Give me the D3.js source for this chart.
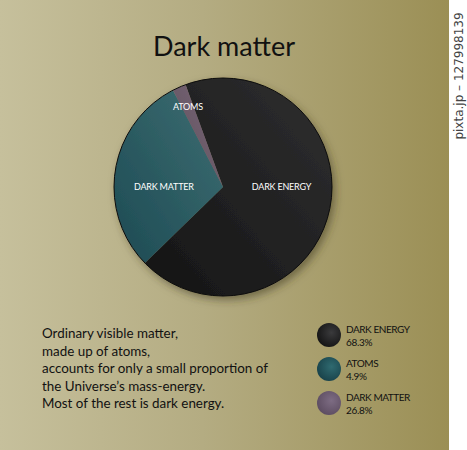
<!DOCTYPE html>
<html>
<head>
<meta charset="utf-8">
<script src="https://cdn.jsdelivr.net/npm/d3@7"></script>
<style>
  body { margin: 0; background: #fff; }
  svg { display: block; }
</style>
</head>
<body>
<svg width="467" height="450"></svg>
<script>
// slices as drawn in the picture (clockwise from the top-left edge)
var sliceNames = ["DARK ENERGY", "DARK MATTER", "ATOMS"];
var sliceValues = [68.3, 29.7, 2.0];

// legend as printed
var legendNames = ["DARK ENERGY", "ATOMS", "DARK MATTER"];
var legendPct = ["68.3%", "4.9%", "26.8%"];

var title = "Dark matter";
var noteLines = [
    "Ordinary visible matter,",
    "made up of atoms,",
    "accounts for only a small proportion of",
    "the Universe\u2019s mass-energy.",
    "Most of the rest is dark energy."
];

var svg = d3.select("svg"),
    W = 449, H = 450,
    cx = 223, cy = 187, R = 109;

var defs = svg.append("defs");

var bg = defs.append("linearGradient").attr("id", "bg")
    .attr("x1", 0).attr("x2", 1).attr("y1", 0).attr("y2", 0);
bg.append("stop").attr("offset", "0%").attr("stop-color", "#c6c09c");
bg.append("stop").attr("offset", "45%").attr("stop-color", "#b4ac82");
bg.append("stop").attr("offset", "100%").attr("stop-color", "#9b8f55");

// slice fills
var fills = {
    "DARK ENERGY": ["#141414", "#2f2f30"],
    "DARK MATTER": ["#1d4a53", "#3d6e72"],
    "ATOMS": ["#5e4d5e", "#7a6877"]
};
Object.keys(fills).forEach(function (k, i) {
    var g = defs.append("linearGradient").attr("id", "f" + i)
        .attr("x1", 0).attr("y1", 1).attr("x2", 1).attr("y2", 0);
    g.append("stop").attr("offset", "0%").attr("stop-color", fills[k][0]);
    g.append("stop").attr("offset", "100%").attr("stop-color", fills[k][1]);
});
var fillId = function (name) { return "url(#f" + Object.keys(fills).indexOf(name) + ")"; };

var legendFill = {
    "DARK ENERGY": ["#3a3a3c", "#111"],
    "ATOMS": ["#2f6a70", "#173f47"],
    "DARK MATTER": ["#7d6c83", "#5a4a5e"]
};
Object.keys(legendFill).forEach(function (k, i) {
    var g = defs.append("radialGradient").attr("id", "l" + i)
        .attr("cx", "60%").attr("cy", "40%").attr("r", "70%");
    g.append("stop").attr("offset", "0%").attr("stop-color", legendFill[k][0]);
    g.append("stop").attr("offset", "100%").attr("stop-color", legendFill[k][1]);
});

var shadow = defs.append("filter").attr("id", "shadow")
    .attr("x", "-20%").attr("y", "-20%").attr("width", "150%").attr("height", "150%");
shadow.append("feDropShadow").attr("dx", 3).attr("dy", 4)
    .attr("stdDeviation", 4).attr("flood-color", "#3a3420").attr("flood-opacity", 0.55);

svg.append("rect").attr("width", W).attr("height", H).attr("fill", "url(#bg)");

// title
svg.append("text")
    .attr("x", 224).attr("y", 56)
    .attr("text-anchor", "middle")
    .style("font", "27px Lato, 'Open Sans', sans-serif")
    .attr("fill", "#111")
    .text(title);

// pie
var pie = d3.pie().sort(null)
    .startAngle(-20.1 * Math.PI / 180)
    .endAngle((360 - 20.1) * Math.PI / 180);
var arcs = pie(sliceValues);
var arc = d3.arc().innerRadius(0).outerRadius(R);

var g = svg.append("g").attr("transform", "translate(" + cx + "," + cy + ")");

g.append("g").attr("filter", "url(#shadow)")
    .selectAll("path")
    .data(arcs)
    .enter().append("path")
    .attr("d", arc)
    .attr("fill", function (d, i) { return fillId(sliceNames[i]); });

g.append("circle").attr("r", R).attr("fill", "none")
    .attr("stroke", "#0c0c0c").attr("stroke-width", 1);

g.selectAll(".lbl")
    .data(arcs)
    .enter().append("text")
    .attr("class", "lbl")
    .attr("transform", function (d) {
        var small = (d.endAngle - d.startAngle) < 0.3;
        var r = small ? R * 0.8 : R * 0.55;
        var a = (d.startAngle + d.endAngle) / 2;
        var y = small ? -Math.cos(a) * r : 0;
        return "translate(" + (Math.sin(a) * r) + "," + y + ")";
    })
    .attr("dy", "0.35em")
    .attr("text-anchor", "middle")
    .attr("fill", "#fff")
    .style("font", "9px Lato, 'Open Sans', sans-serif")
    .style("letter-spacing", "-0.2px")
    .text(function (d, i) { return sliceNames[i]; });

// note text
svg.append("g").selectAll("text")
    .data(noteLines)
    .enter().append("text")
    .attr("x", 42)
    .attr("y", function (d, i) { return 338 + i * 17.5; })
    .attr("fill", "#111")
    .style("font", "13.4px Lato, 'Open Sans', sans-serif")
    .text(function (d) { return d; });

// legend
var legend = svg.append("g").selectAll(".legend")
    .data(legendNames)
    .enter().append("g")
    .attr("class", "legend")
    .attr("transform", function (d, i) { return "translate(329," + (335 + i * 34) + ")"; });

legend.append("circle")
    .attr("r", 12)
    .attr("fill", function (d) { return "url(#l" + Object.keys(legendFill).indexOf(d) + ")"; });

legend.append("text")
    .attr("x", 17).attr("y", -2)
    .attr("fill", "#111")
    .style("font", "10px Lato, 'Open Sans', sans-serif")
    .style("letter-spacing", "-0.45px")
    .text(function (d) { return d; });

legend.append("text")
    .attr("x", 17).attr("y", 11)
    .attr("fill", "#111")
    .style("font", "10px Lato, 'Open Sans', sans-serif")
    .style("letter-spacing", "-0.3px")
    .text(function (d, i) { return legendPct[i]; });

// side strip
svg.append("text")
    .attr("transform", "translate(463,76) rotate(-90)")
    .attr("text-anchor", "middle")
    .attr("fill", "#444")
    .style("font", "12px 'DejaVu Sans', sans-serif")
    .text("pixta.jp \u2013 127998139");
</script>
</body>
</html>
